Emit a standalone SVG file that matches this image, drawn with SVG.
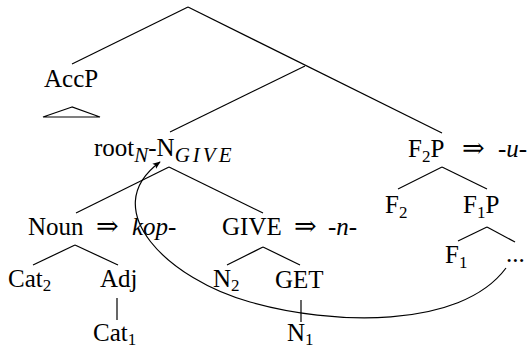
<svg xmlns="http://www.w3.org/2000/svg" width="528" height="348" viewBox="0 0 528 348">
<style>
text{font-size:25px;fill:#000}
.sub{font-size:17px}
.msub{font-size:21px;font-style:italic}
.it{font-style:italic}
.ar{font-size:27px}
line,polygon,path{stroke:#000;stroke-width:1.2;fill:none}
</style>
<defs>
<marker id="ah" viewBox="0 0 10 10" refX="9" refY="5" markerWidth="8" markerHeight="8" markerUnits="userSpaceOnUse" orient="auto">
<path d="M0,1 L10,5 L0,9 L2,5 Z" style="fill:#000;stroke:none"/>
</marker>
</defs>
<g id="connectors">
<line x1="188" y1="7" x2="72" y2="64"/>
<line x1="188" y1="7" x2="442" y2="133"/>
<line x1="305" y1="66" x2="170" y2="132"/>
<polygon points="72,107 43,117 100,117"/>
<line x1="169" y1="167" x2="76" y2="213"/>
<line x1="169" y1="167" x2="263" y2="213"/>
<line x1="75" y1="245" x2="33" y2="265"/>
<line x1="75" y1="245" x2="118" y2="265"/>
<line x1="117" y1="298" x2="117" y2="320"/>
<line x1="263" y1="247" x2="227" y2="265"/>
<line x1="263" y1="247" x2="300" y2="265"/>
<line x1="301" y1="300" x2="301" y2="322"/>
<line x1="442" y1="167" x2="398" y2="189"/>
<line x1="442" y1="167" x2="487" y2="189"/>
<line x1="487" y1="227" x2="458" y2="241"/>
<line x1="487" y1="227" x2="515" y2="242"/>
<path d="M506,268 C460,330 330,325 250,302 C170,280 95,210 160,162" marker-end="url(#ah)"/>
</g>
<g font-family="'Liberation Serif', Tinos, 'Noto Serif', 'DejaVu Serif', FreeSerif, 'Nimbus Roman', Times, serif">
<g id="AccP"><text x="44" y="87">AccP</text></g>
<g id="rootN"><text x="94" y="156">root<tspan class="msub" dy="6">N</tspan><tspan dy="-6">-N</tspan><tspan class="msub" dy="6" letter-spacing="3">GIVE</tspan></text></g>
<g id="F2P"><text x="408" y="157">F<tspan class="sub" dy="5">2</tspan><tspan dy="-5">P</tspan></text><text class="ar" x="462" y="157">⇒</text><text class="it" x="498" y="157">-u-</text></g>
<g id="Noun"><text x="28" y="235">Noun</text><text class="ar" x="96" y="235">⇒</text><text class="it" x="132" y="235">kop-</text></g>
<g id="GIVE"><text x="222" y="235">GIVE</text><text class="ar" x="294" y="235">⇒</text><text class="it" x="328" y="235">-n-</text></g>
<g id="F2"><text x="385" y="213">F<tspan class="sub" dy="5">2</tspan></text></g>
<g id="F1P"><text x="463" y="213">F<tspan class="sub" dy="5">1</tspan><tspan dy="-5">P</tspan></text></g>
<g id="F1"><text x="445" y="263">F<tspan class="sub" dy="5">1</tspan></text></g>
<g id="dots"><text x="506" y="262">...</text></g>
<g id="Cat2"><text x="8" y="287">Cat<tspan class="sub" dy="4">2</tspan></text></g>
<g id="Adj"><text x="100" y="287">Adj</text></g>
<g id="Cat1"><text x="93" y="341">Cat<tspan class="sub" dy="4">1</tspan></text></g>
<g id="N2"><text x="213" y="287">N<tspan class="sub" dy="4">2</tspan></text></g>
<g id="GET"><text x="275" y="288">GET</text></g>
<g id="N1"><text x="287" y="341">N<tspan class="sub" dy="4">1</tspan></text></g>
</g>
</svg>
